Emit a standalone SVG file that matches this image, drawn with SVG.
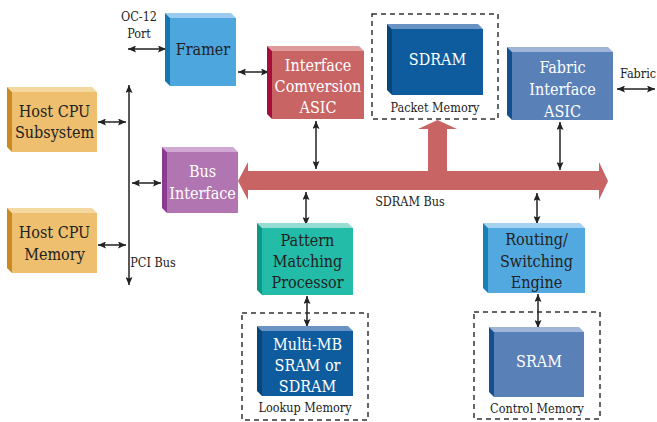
<svg xmlns="http://www.w3.org/2000/svg" width="657" height="422" viewBox="0 0 657 422">
<defs>
<style>
text{font-family:'DejaVu Serif Condensed','DejaVu Serif',serif;font-stretch:condensed;text-anchor:middle}
.t{font-size:16px;fill:#222}
.w{font-size:16px;fill:#fff}
.s{font-size:12.5px;fill:#222}
.c{stroke:#222;stroke-width:1.5;fill:none;marker-start:url(#ah);marker-end:url(#ah)}
.dash{fill:none;stroke:#333;stroke-width:1.5;stroke-dasharray:5 4}
</style>
<marker id="ah" viewBox="0 0 8 7" refX="8" refY="3.5" markerWidth="8" markerHeight="7" markerUnits="userSpaceOnUse" orient="auto-start-reverse">
<path d="M0,0 L8,3.5 L0,7 L1.5,3.5 z" fill="#222"/>
</marker>
</defs>
<rect width="657" height="422" fill="#fff"/>

<g id="packet-memory-frame"><rect class="dash" x="372" y="14" width="126" height="105"/><text class="s" x="435" y="112">Packet Memory</text></g>
<g id="lookup-memory-frame"><rect class="dash" x="242" y="313" width="126" height="107"/><text class="s" x="305" y="412">Lookup Memory</text></g>
<g id="control-memory-frame"><rect class="dash" x="474" y="312" width="126" height="107"/><text class="s" x="537" y="413">Control Memory</text></g>

<g id="sdram-bus">
<polygon fill="#C86464" points="238,181 248,162 248,171 428,171 428,129 418,129 437.5,120 457,129 447,129 447,171 599,171 599,162 608,181 599,200 599,190 248,190 248,200"/>
<text class="s" x="410" y="206">SDRAM Bus</text>
</g>

<g id="connectors">
<line class="c" x1="128" y1="49" x2="166" y2="49"/>
<line class="c" x1="238" y1="72" x2="269" y2="72"/>
<line class="c" x1="98" y1="122" x2="126" y2="122"/>
<line class="c" x1="98" y1="245" x2="126" y2="245"/>
<line class="c" x1="132" y1="183" x2="161" y2="183"/>
<line class="c" x1="129" y1="85" x2="129" y2="285"/>
<line class="c" x1="316" y1="121" x2="316" y2="169"/>
<line class="c" x1="306" y1="192" x2="306" y2="225"/>
<line class="c" x1="307" y1="296" x2="307" y2="327"/>
<line class="c" x1="560" y1="122" x2="560" y2="170"/>
<line class="c" x1="537" y1="193" x2="537" y2="224"/>
<line class="c" x1="538" y1="294" x2="538" y2="328"/>
<line class="c" x1="617" y1="89" x2="655" y2="89"/>
<text class="s" x="139" y="21">OC-12</text>
<text class="s" x="139" y="38">Port</text>
<text class="s" x="153" y="267">PCI Bus</text>
<text class="s" x="638" y="78">Fabric</text>
</g>

<g id="framer">
<polygon fill="#9BCBEE" points="165,13 231,13 236,18 170,18"/>
<polygon fill="#1577B0" points="165,13 170,18 170,86 165,81"/>
<rect x="170" y="18" width="66" height="68" fill="#4DA6DE"/>
<text class="t" x="203" y="55">Framer</text>
</g>

<g id="host-cpu-subsystem">
<polygon fill="#F5D7A0" points="7,87 92,87 97,92 12,92"/>
<polygon fill="#C98A22" points="7,87 12,92 12,152 7,147"/>
<rect x="12" y="92" width="85" height="60" fill="#EDBF6F"/>
<text class="t" x="54.5" y="117">Host CPU</text>
<text class="t" x="54.5" y="138">Subsystem</text>
</g>

<g id="host-cpu-memory">
<polygon fill="#F5D7A0" points="7,208 92,208 97,213 12,213"/>
<polygon fill="#C98A22" points="7,208 12,213 12,273 7,268"/>
<rect x="12" y="213" width="85" height="60" fill="#EDBF6F"/>
<text class="t" x="54.5" y="238">Host CPU</text>
<text class="t" x="54.5" y="260">Memory</text>
</g>

<g id="bus-interface">
<polygon fill="#D1A8D1" points="162,147 233,147 238,152 167,152"/>
<polygon fill="#8C3B93" points="162,147 167,152 167,213 162,208"/>
<rect x="167" y="152" width="71" height="61" fill="#B175B1"/>
<text class="w" x="202.5" y="177">Bus</text>
<text class="w" x="202.5" y="199">Interface</text>
</g>

<g id="interface-conversion-asic">
<polygon fill="#DD9B9B" points="267,46 359,46 364,51 272,51"/>
<polygon fill="#A50D3A" points="267,46 272,51 272,119 267,114"/>
<rect x="272" y="51" width="92" height="68" fill="#C96464"/>
<text class="w" x="318" y="71">Interface</text>
<text class="w" x="318" y="92">Comversion</text>
<text class="w" x="318" y="113">ASIC</text>
</g>

<g id="sdram">
<polygon fill="#6A93C5" points="387,24 478,24 483,29 392,29"/>
<polygon fill="#0A4578" points="387,24 392,29 392,95 387,90"/>
<rect x="392" y="29" width="91" height="66" fill="#0E5C9E"/>
<text class="w" x="437.5" y="65">SDRAM</text>
</g>

<g id="fabric-interface-asic">
<polygon fill="#A0B4D8" points="507,47 608,47 613,52 512,52"/>
<polygon fill="#14508F" points="507,47 512,52 512,120 507,115"/>
<rect x="512" y="52" width="101" height="68" fill="#5A80B8"/>
<text class="w" x="562.5" y="73">Fabric</text>
<text class="w" x="562.5" y="95">Interface</text>
<text class="w" x="562.5" y="117">ASIC</text>
</g>

<g id="pattern-matching-processor">
<polygon fill="#95DDD3" points="257,223 348,223 353,228 262,228"/>
<polygon fill="#0A9985" points="257,223 262,228 262,295 257,290"/>
<rect x="262" y="228" width="91" height="67" fill="#22BCA9"/>
<text class="t" x="307.5" y="246">Pattern</text>
<text class="t" x="307.5" y="267">Matching</text>
<text class="t" x="307.5" y="288">Processor</text>
</g>

<g id="multi-mb-sram">
<polygon fill="#6A93C5" points="257,326 348,326 353,331 262,331"/>
<polygon fill="#0A4578" points="257,326 262,331 262,396 257,391"/>
<rect x="262" y="331" width="91" height="65" fill="#0E5C9E"/>
<text class="w" x="307.5" y="350">Multi-MB</text>
<text class="w" x="307.5" y="371">SRAM or</text>
<text class="w" x="307.5" y="392">SDRAM</text>
</g>

<g id="routing-switching-engine">
<polygon fill="#A5D2F0" points="483,223 580,223 585,228 488,228"/>
<polygon fill="#1780B5" points="483,223 488,228 488,293 483,288"/>
<rect x="488" y="228" width="97" height="65" fill="#52A9E0"/>
<text class="t" x="536.5" y="245">Routing/</text>
<text class="t" x="536.5" y="267">Switching</text>
<text class="t" x="536.5" y="288">Engine</text>
</g>

<g id="sram">
<polygon fill="#A0B4D8" points="489,327 579,327 584,332 494,332"/>
<polygon fill="#14508F" points="489,327 494,332 494,397 489,392"/>
<rect x="494" y="332" width="90" height="65" fill="#5A80B8"/>
<text class="w" x="539" y="367">SRAM</text>
</g>
</svg>
